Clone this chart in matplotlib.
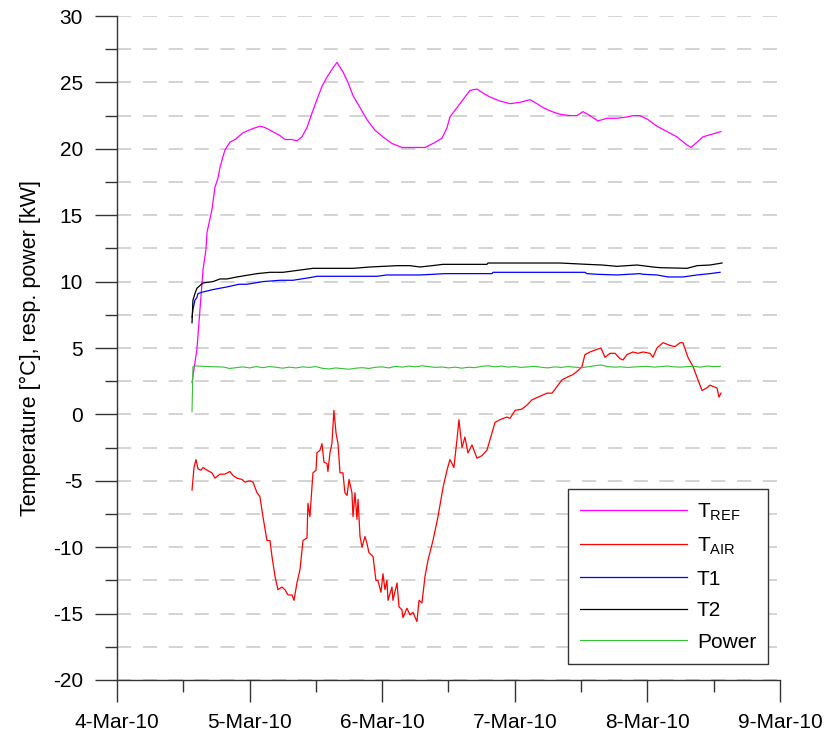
import numpy as np
import matplotlib
matplotlib.use("Agg")
import matplotlib.pyplot as plt
import matplotlib.dates as mdates
from matplotlib.ticker import MultipleLocator

plt.rcParams['font.family'] = ['Liberation Sans', 'DejaVu Sans']
plt.rcParams['mathtext.fontset'] = 'custom'
plt.rcParams['mathtext.rm'] = 'Liberation Sans'
plt.rcParams['axes.unicode_minus'] = False

# time as day of March 2010 (fractional), values in degC / kW
tref_t = [4.566, 4.603, 4.626, 4.649, 4.671, 4.679, 4.716, 4.739, 4.762, 4.777,
          4.799, 4.814, 4.852, 4.890, 4.950, 5.018, 5.078, 5.116, 5.154, 5.192,
          5.229, 5.267, 5.320, 5.357, 5.395, 5.433, 5.471, 5.508, 5.546, 5.584,
          5.629, 5.659, 5.704, 5.742, 5.780, 5.833, 5.885, 5.946, 6.006, 6.074,
          6.149, 6.232, 6.323, 6.383, 6.451, 6.489, 6.511, 6.564, 6.609, 6.662,
          6.715, 6.760, 6.813, 6.888, 6.964, 7.039, 7.115, 7.167, 7.213, 7.281,
          7.341, 7.416, 7.469, 7.514, 7.567, 7.627, 7.695, 7.771, 7.846, 7.891,
          7.944, 8.005, 8.072, 8.148, 8.223, 8.284, 8.329, 8.374, 8.419, 8.487,
          8.555]
tref_v = [2.4, 4.9, 7.9, 10.9, 12.4, 13.7, 15.4, 17.1, 17.8, 18.6,
          19.4, 19.9, 20.5, 20.7, 21.2, 21.5, 21.7, 21.6, 21.4, 21.2,
          21.0, 20.7, 20.7, 20.6, 20.9, 21.6, 22.7, 23.7, 24.7, 25.4,
          26.1, 26.5, 25.8, 25.0, 24.0, 23.1, 22.2, 21.4, 20.9, 20.4,
          20.1, 20.1, 20.1, 20.4, 20.8, 21.6, 22.4, 23.1, 23.7, 24.4,
          24.5, 24.2, 23.9, 23.6, 23.4, 23.5, 23.7, 23.4, 23.1, 22.8,
          22.6, 22.5, 22.5, 22.8, 22.5, 22.1, 22.3, 22.3, 22.4, 22.5,
          22.5, 22.2, 21.7, 21.3, 20.9, 20.4, 20.1, 20.5, 20.9, 21.1,
          21.3]

tair_t = [4.566, 4.581, 4.596, 4.611, 4.633, 4.649, 4.679, 4.716, 4.739, 4.777,
          4.814, 4.852, 4.875, 4.905, 4.943, 4.965, 5.003, 5.026, 5.056, 5.078,
          5.101, 5.131, 5.154, 5.169, 5.192, 5.214, 5.244, 5.267, 5.290, 5.320,
          5.335, 5.357, 5.380, 5.403, 5.433, 5.440, 5.455, 5.478, 5.501, 5.508,
          5.531, 5.546, 5.561, 5.584, 5.591, 5.606, 5.621, 5.636, 5.652, 5.667,
          5.682, 5.704, 5.719, 5.735, 5.750, 5.772, 5.780, 5.795, 5.810, 5.818,
          5.833, 5.848, 5.870, 5.885, 5.900, 5.931, 5.953, 5.968, 5.991, 6.006,
          6.021, 6.036, 6.044, 6.074, 6.081, 6.112, 6.127, 6.149, 6.157, 6.187,
          6.210, 6.232, 6.262, 6.278, 6.300, 6.323, 6.345, 6.383, 6.421, 6.459,
          6.489, 6.511, 6.541, 6.564, 6.579, 6.602, 6.624, 6.647, 6.677, 6.715,
          6.753, 6.790, 6.813, 6.851, 6.888, 6.941, 6.964, 7.002, 7.054, 7.092,
          7.130, 7.175, 7.243, 7.281, 7.318, 7.356, 7.394, 7.439, 7.477, 7.507,
          7.529, 7.567, 7.620, 7.650, 7.680, 7.718, 7.756, 7.793, 7.816, 7.846,
          7.891, 7.929, 7.967, 8.020, 8.042, 8.072, 8.118, 8.170, 8.208, 8.246,
          8.268, 8.306, 8.344, 8.382, 8.412, 8.449, 8.472, 8.495, 8.525, 8.540,
          8.555]
tair_v = [-5.7, -4.0, -3.4, -4.1, -4.2, -4.0, -4.2, -4.4, -4.8, -4.5,
          -4.5, -4.3, -4.6, -4.8, -4.9, -5.1, -5.0, -5.1, -5.9, -6.2,
          -7.7, -9.5, -9.5, -10.7, -12.2, -13.2, -13.0, -13.2, -13.6, -13.6,
          -14.0, -12.7, -11.7, -9.5, -9.3, -6.7, -7.7, -4.4, -4.2, -2.9,
          -2.7, -2.2, -3.6, -3.7, -4.3, -2.9, -2.2, 0.3, -1.4, -2.2,
          -4.4, -4.4, -5.9, -6.1, -4.9, -5.9, -7.7, -5.9, -7.9, -6.4,
          -9.2, -10.0, -9.2, -9.7, -10.4, -10.7, -12.5, -12.5, -13.4, -12.0,
          -13.2, -12.5, -14.0, -13.0, -14.0, -12.7, -14.5, -14.7, -15.3, -14.6,
          -15.1, -14.9, -15.6, -14.0, -14.2, -12.2, -11.0, -9.5, -7.7, -5.5,
          -4.2, -3.4, -4.0, -1.9, -0.4, -2.5, -1.7, -2.9, -2.3, -3.3,
          -3.1, -2.7, -1.9, -0.6, -0.4, -0.2, -0.3, 0.3, 0.4, 0.7,
          1.1, 1.3, 1.6, 1.6, 2.1, 2.6, 2.8, 3.0, 3.3, 3.6,
          4.5, 4.7, 4.9, 5.0, 4.3, 4.6, 4.6, 4.2, 4.1, 4.5,
          4.7, 4.6, 4.7, 4.6, 4.3, 5.0, 5.4, 5.2, 5.1, 5.4,
          5.4, 4.3, 3.6, 2.6, 1.8, 2.0, 2.2, 2.1, 2.0, 1.3,
          1.6]

t1_t = [4.566, 4.573, 4.588, 4.603, 4.611, 4.641, 4.724, 4.830, 4.920, 4.980,
        5.101, 5.229, 5.327, 5.455, 5.508, 5.659, 5.780, 5.961, 6.036, 6.285,
        6.383, 6.474, 6.828, 6.836, 7.529, 7.544, 7.620, 7.771, 7.944, 7.967,
        8.072, 8.155, 8.268, 8.374, 8.472, 8.548]
t1_v = [7.3, 7.9, 8.6, 8.8, 9.1, 9.2, 9.4, 9.6, 9.8, 9.8,
        10.0, 10.1, 10.1, 10.3, 10.4, 10.4, 10.4, 10.4, 10.5, 10.5,
        10.55, 10.6, 10.6, 10.7, 10.7, 10.6, 10.55, 10.5, 10.6, 10.55,
        10.5, 10.35, 10.35, 10.5, 10.6, 10.7]

t2_t = [4.566, 4.573, 4.588, 4.603, 4.649, 4.724, 4.777, 4.830, 4.905, 5.056,
        5.154, 5.252, 5.403, 5.478, 5.606, 5.780, 5.908, 6.112, 6.210, 6.285,
        6.376, 6.459, 6.790, 6.798, 7.167, 7.341, 7.544, 7.658, 7.771, 7.922,
        8.042, 8.095, 8.299, 8.374, 8.472, 8.563]
t2_v = [6.9, 8.6, 9.1, 9.5, 9.9, 10.0, 10.2, 10.2, 10.35, 10.6,
        10.7, 10.7, 10.9, 11.0, 11.0, 11.0, 11.1, 11.2, 11.2, 11.1,
        11.2, 11.3, 11.3, 11.4, 11.4, 11.4, 11.3, 11.25, 11.15, 11.25,
        11.1, 11.05, 11.0, 11.2, 11.25, 11.4]

power_t = [4.566, 4.573, 4.60, 4.65, 4.70, 4.75, 4.80, 4.85, 4.90, 4.95,
           5.00, 5.05, 5.10, 5.15, 5.20, 5.25, 5.30, 5.35, 5.40, 5.45,
           5.50, 5.55, 5.60, 5.65, 5.70, 5.75, 5.80, 5.85, 5.90, 5.95,
           6.00, 6.05, 6.10, 6.15, 6.20, 6.25, 6.30, 6.35, 6.40, 6.45,
           6.50, 6.55, 6.60, 6.65, 6.70, 6.75, 6.80, 6.85, 6.90, 6.95,
           7.00, 7.05, 7.10, 7.15, 7.20, 7.25, 7.30, 7.35, 7.40, 7.45,
           7.50, 7.55, 7.60, 7.65, 7.70, 7.75, 7.80, 7.85, 7.90, 7.95,
           8.00, 8.05, 8.10, 8.15, 8.20, 8.25, 8.30, 8.35, 8.40, 8.45,
           8.50, 8.55]
power_v = [0.2, 3.6, 3.65, 3.62, 3.60, 3.58, 3.57, 3.46, 3.52, 3.58,
           3.50, 3.60, 3.52, 3.60, 3.55, 3.48, 3.56, 3.50, 3.58, 3.54,
           3.60, 3.47, 3.42, 3.50, 3.45, 3.40, 3.48, 3.52, 3.46, 3.55,
           3.58, 3.50, 3.62, 3.56, 3.64, 3.58, 3.66, 3.60, 3.54, 3.57,
           3.50, 3.56, 3.48, 3.55, 3.52, 3.62, 3.66, 3.58, 3.64, 3.56,
           3.60, 3.54, 3.58, 3.62, 3.55, 3.50, 3.58, 3.54, 3.60, 3.56,
           3.52, 3.58, 3.66, 3.72, 3.60, 3.56, 3.58, 3.54, 3.57, 3.60,
           3.62, 3.56, 3.60, 3.64, 3.58, 3.56, 3.60, 3.62, 3.56, 3.64,
           3.60, 3.62]

base = mdates.date2num(np.datetime64('2010-03-01'))


def to_dates(days):
    return base + np.array(days) - 1


fig = plt.figure(figsize=(8.26, 7.38), dpi=100)
ax = fig.add_axes([0.1416, 0.0786, 0.8027, 0.8997])

ax.plot(to_dates(tref_t), tref_v, color='#ff00ff', lw=0.9, label=r'T$_{\mathrm{REF}}$')
ax.plot(to_dates(tair_t), tair_v, color='#ff0000', lw=0.9, label=r'T$_{\mathrm{AIR}}$')
ax.plot(to_dates(t1_t), t1_v, color='#0000ff', lw=0.9, label='T1')
ax.plot(to_dates(t2_t), t2_v, color='#000000', lw=0.9, label='T2')
ax.plot(to_dates(power_t), power_v, color='#33c033', lw=0.8, label='Power')

ax.set_xlim(to_dates([4, 9]))
ax.set_ylim(-20, 30)

ax.xaxis.set_major_locator(mdates.DayLocator())
ax.xaxis.set_minor_locator(mdates.HourLocator(byhour=[12]))
ax.xaxis.set_major_formatter(mdates.DateFormatter('%-d-%b-%y'))
ax.yaxis.set_major_locator(MultipleLocator(5))
ax.yaxis.set_minor_locator(MultipleLocator(2.5))

ax.set_axisbelow(True)
ax.yaxis.grid(True, which='both', color='#cccccc', lw=1.2, linestyle=(0, (8.5, 7)))

for s in ['top', 'right']:
    ax.spines[s].set_visible(False)
for s in ['left', 'bottom']:
    ax.spines[s].set_color('#333333')
    ax.spines[s].set_linewidth(1.0)

ax.tick_params(which='major', length=16, width=1, color='#333333', labelsize=15)
ax.tick_params(which='minor', length=8.6, width=1, color='#333333')
ax.tick_params(axis='x', which='major', pad=8)
ax.tick_params(axis='y', which='major', pad=8.5)

ax.set_ylabel('Temperature [°C], resp. power [kW]', fontsize=15.5)
ax.yaxis.set_label_coords(-0.114, 0.5)

leg = ax.legend(loc='lower left', bbox_to_anchor=(0.680, 0.024, 0.302, 0.26),
                mode='expand', fontsize=15, frameon=True, fancybox=False,
                framealpha=1, edgecolor='#333333', handlelength=5.1,
                handletextpad=0.5, labelspacing=0.6, borderpad=0.6,
                borderaxespad=0)
leg.get_frame().set_linewidth(1.0)

fig.savefig('out.png', dpi=100)
